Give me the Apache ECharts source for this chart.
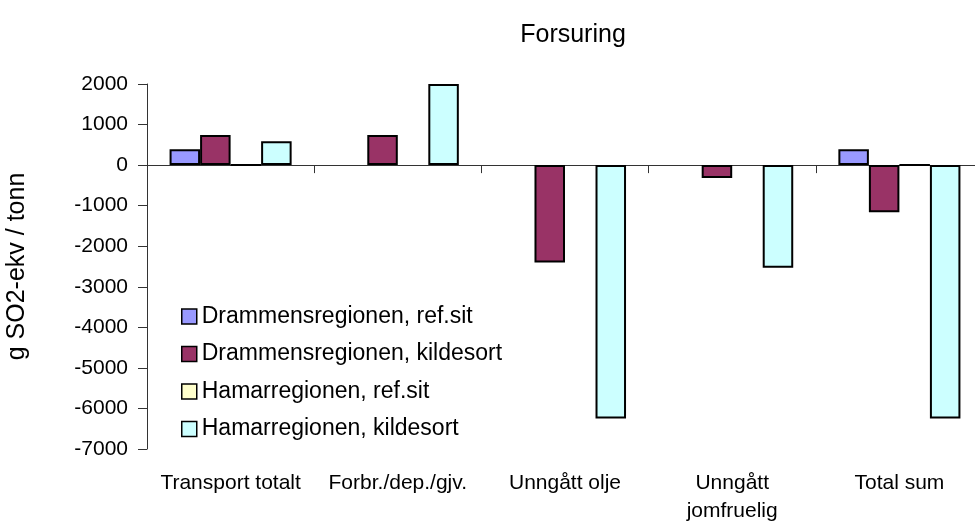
<!DOCTYPE html>
<html>
<head>
<meta charset="utf-8">
<script src="https://cdn.jsdelivr.net/npm/echarts@6/dist/echarts.min.js"></script>
<style>
html,body{margin:0;padding:0;background:#fff;}
#chart{width:975px;height:521px;}
</style>
</head>
<body>
<div id="chart"></div>
<script>
var categories = ['Transport totalt', 'Forbr./dep./gjv.', 'Unngått olje', 'Unngått\njomfruelig', 'Total sum'];
var seriesNames = ['Drammensregionen, ref.sit', 'Drammensregionen, kildesort', 'Hamarregionen, ref.sit', 'Hamarregionen, kildesort'];
var drammensRef = [390, null, null, null, 390];
var drammensKilde = [740, 740, -2400, -320, -1160];
var hamarRef = [0, null, null, null, 0];
var hamarKilde = [590, 2000, -6250, -2530, -6250];
var yTicks = {min: -7000, max: 2000, interval: 1000};
var colors = ['#9999FF', '#993366', '#FFFFCC', '#CCFFFF'];

var FONT = '"Liberation Sans", Arial, sans-serif';
var chart = echarts.init(document.getElementById('chart'), null, {renderer: 'canvas'});
var dataSets = [drammensRef, drammensKilde, hamarRef, hamarKilde];
var series = dataSets.map(function (d, i) {
  return {
    name: seriesNames[i],
    type: 'bar',
    xAxisIndex: 0,
    data: d,
    barGap: '0%',
    barCategoryGap: '27%',
    itemStyle: {color: colors[i], borderColor: '#000', borderWidth: 2},
    emphasis: {disabled: true}
  };
});

chart.setOption({
  animation: false,
  backgroundColor: '#fff',
  title: {
    text: 'Forsuring',
    left: 568,
    top: 18,
    textAlign: 'center',
    textStyle: {fontFamily: FONT, fontSize: 25, fontWeight: 'normal', color: '#000'}
  },
  legend: {
    orient: 'vertical',
    left: 176,
    top: 300,
    itemWidth: 15,
    itemHeight: 15,
    itemGap: 14.5,
    icon: 'rect',
    itemStyle: {borderWidth: 1.5},
    textStyle: {fontFamily: FONT, fontSize: 23, color: '#000', lineHeight: 23},
    data: seriesNames
  },
  grid: {left: 147, right: -8, top: 84, bottom: 72, containLabel: false, outerBoundsMode: 'none'},
  xAxis: [
    {
      type: 'category',
      data: categories,
      position: 'bottom',
      axisLine: {onZero: true, lineStyle: {color: '#333', width: 1}},
      axisTick: {show: true, length: 8, lineStyle: {color: '#333'}},
      axisLabel: {show: false},
      splitLine: {show: false}
    },
    {
      type: 'category',
      data: categories,
      position: 'bottom',
      axisLine: {show: false, onZero: false},
      axisTick: {show: false},
      axisLabel: {show: true, margin: 20, fontFamily: FONT, fontSize: 21, color: '#000', lineHeight: 28, interval: 0},
      splitLine: {show: false}
    }
  ],
  yAxis: {
    type: 'value',
    min: yTicks.min,
    max: yTicks.max,
    interval: yTicks.interval,
    name: 'g SO2-ekv / tonn',
    nameLocation: 'middle',
    nameGap: 117,
    nameTextStyle: {fontFamily: FONT, fontSize: 25, color: '#000'},
    axisLine: {show: true, lineStyle: {color: '#333', width: 1}},
    axisTick: {show: true, length: 9, lineStyle: {color: '#333'}},
    axisLabel: {margin: 19, fontFamily: FONT, fontSize: 21, color: '#000', formatter: function (v) { return String(v); }},
    splitLine: {show: false}
  },
  series: series
});
</script>
</body>
</html>
